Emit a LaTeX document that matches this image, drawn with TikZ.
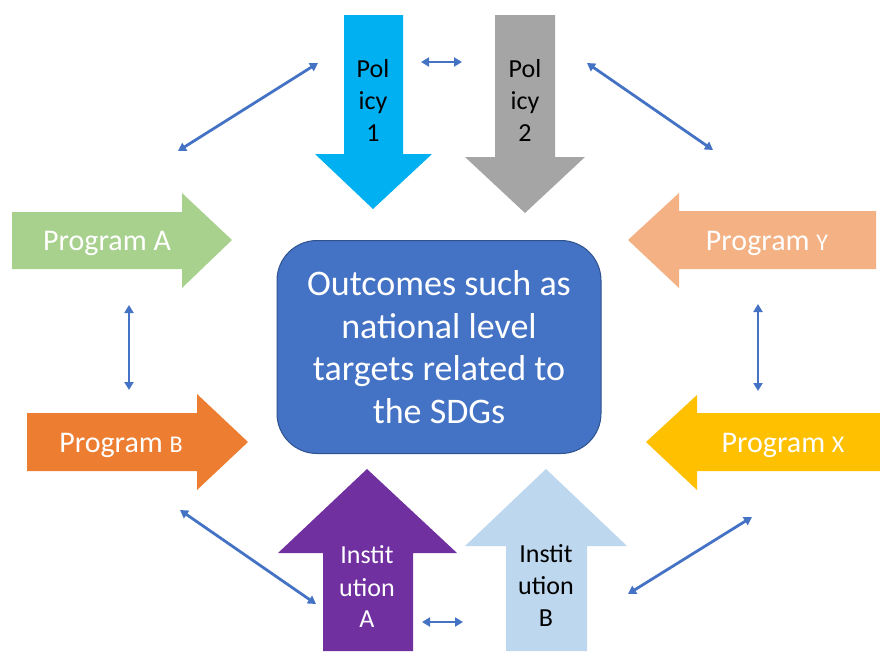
\documentclass[tikz,border=0pt]{standalone}
\usepackage{fontspec}
\setmainfont{Carlito}
\usetikzlibrary{arrows.meta}
\definecolor{polA}{HTML}{00B0F0}
\definecolor{polB}{HTML}{A5A5A5}
\definecolor{progA}{HTML}{A9D18E}
\definecolor{progB}{HTML}{ED7D31}
\definecolor{progY}{HTML}{F4B183}
\definecolor{progX}{HTML}{FFC000}
\definecolor{instA}{HTML}{7030A0}
\definecolor{instB}{HTML}{BDD7EE}
\definecolor{boxblue}{HTML}{4472C4}
\definecolor{boxborder}{HTML}{2F528F}
\definecolor{linkblue}{HTML}{4472C4}
\begin{document}
\begin{tikzpicture}[x=1pt,y=-1pt,
  link/.style={draw=linkblue, line width=2.8pt,
    {Triangle[length=8pt,width=9pt]}-{Triangle[length=8pt,width=9pt]}},
  vlabel/.style={align=center, inner sep=0pt, font=\fontsize{26}{32}\selectfont},
  plabel/.style={inner sep=0pt, text=white, font=\fontsize{30}{36}\selectfont}]
\useasboundingbox (0,0) rectangle (880,651);
\newcommand{\sm}[1]{{\fontsize{24}{28}\selectfont #1}}
% block arrows
\fill[polA] (344,15) -- (403,15) -- (403,154) -- (432,154) -- (373,209) -- (315,154) -- (344,154) -- cycle;
\fill[polB] (495,15) -- (555,15) -- (555,157) -- (585,157) -- (525,213) -- (465,157) -- (495,157) -- cycle;
\fill[progA] (12,212) -- (182,212) -- (182,193) -- (232,240) -- (182,288) -- (182,269) -- (12,269) -- cycle;
\fill[progB] (27,413) -- (197,413) -- (197,394) -- (248,442) -- (197,490) -- (197,471) -- (27,471) -- cycle;
\fill[progY] (876,211) -- (679,211) -- (679,193) -- (628,240) -- (679,288) -- (679,269) -- (876,269) -- cycle;
\fill[progX] (880,413) -- (697,413) -- (697,395) -- (646,442) -- (697,490) -- (697,471) -- (880,471) -- cycle;
\fill[instA] (323,651) -- (323,553) -- (278,553) -- (367,469) -- (457,553) -- (413,553) -- (413,651) -- cycle;
\fill[instB] (506,651) -- (506,546) -- (465,546) -- (546,469) -- (627,546) -- (587,546) -- (587,651) -- cycle;
% centre box
\node[draw=boxborder, fill=boxblue, line width=1pt, rounded corners=40pt,
  minimum width=324pt, minimum height=213pt, inner sep=0pt,
  align=center, text=white, font=\fontsize{36}{42.5}\selectfont] (outc) at (439,347)
  {Outcomes such as\\national level\\targets related to\\the SDGs};
% labels
\node[vlabel] (p1) at (373,100) {Pol\\icy\\1};
\node[vlabel] (p2) at (525,100) {Pol\\icy\\2};
\node[vlabel, text=white] (ia) at (367,587) {Instit\\ution\\A};
\node[vlabel] (ib) at (546,585) {Instit\\ution\\B};
\node[plabel] (pa) at (107,243) {Program A};
\node[plabel] (pb) at (121,445) {Program \sm{B}};
\node[plabel] (py) at (767,243) {Program \sm{Y}};
\node[plabel] (px) at (783,445) {Program \sm{X}};
% connector ends
\coordinate (c1) at (421,62);   \coordinate (c2) at (462,62);
\coordinate (c3) at (178,151);  \coordinate (c4) at (318,63);
\coordinate (c5) at (587,63);   \coordinate (c6) at (713,150);
\coordinate (c7) at (129,305);  \coordinate (c8) at (129,390);
\coordinate (c9) at (758,304);  \coordinate (c10) at (758,391);
\coordinate (c11) at (180,510); \coordinate (c12) at (316,604);
\coordinate (c13) at (628,594); \coordinate (c14) at (752,517);
\coordinate (c15) at (422,622); \coordinate (c16) at (463,622);
\draw[link] (c1) -- (c2);
\draw[link] (c3) -- (c4);
\draw[link] (c5) -- (c6);
\draw[link] (c7) -- (c8);
\draw[link] (c9) -- (c10);
\draw[link] (c11) -- (c12);
\draw[link] (c13) -- (c14);
\draw[link] (c15) -- (c16);
\end{tikzpicture}
\end{document}
